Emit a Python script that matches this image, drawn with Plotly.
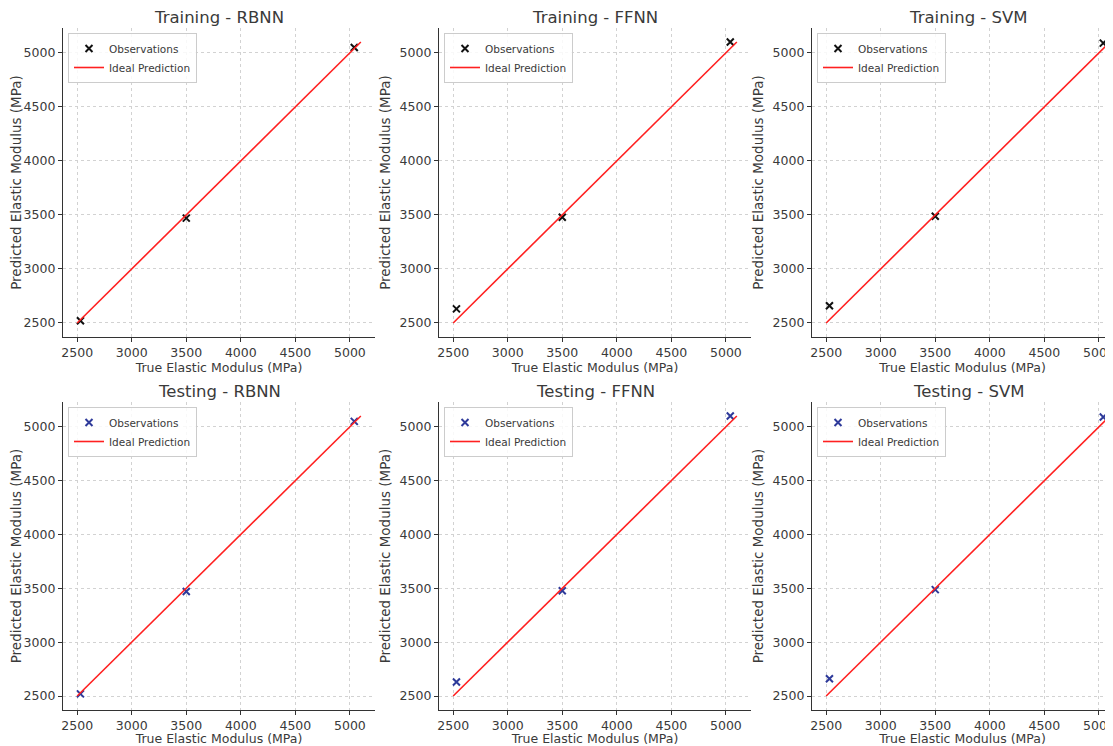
import plotly.graph_objects as go

# ---------------- data ----------------
models = ["RBNN", "FFNN", "SVM"]
phases = ["Training", "Testing"]
true_vals = {
    "RBNN": [2530, 3500, 5040],
    "FFNN": [2530, 3500, 5040],
    "SVM": [2530, 3500, 5040],
}
pred_train = {
    "RBNN": [2520, 3470, 5050],
    "FFNN": [2630, 3478, 5100],
    "SVM": [2660, 3488, 5090],
}
pred_test = {
    "RBNN": [2520, 3470, 5050],
    "FFNN": [2630, 3478, 5100],
    "SVM": [2660, 3488, 5090],
}
ideal_line = [2500, 5100]
tick_vals = [2500, 3000, 3500, 4000, 4500, 5000]

# ---------------- layout geometry ----------------
OFF = 8  # page body margin
W, H = 1113 - OFF, 746 - OFF
FONT = "DejaVu Sans"
TXT = "#3a3a3a"
x_px = [(63, 375), (439, 751), (812, 1124)]
y_px = [(28, 337), (402, 710)]
unit_per_px = 2860 / 312.0

fig = go.Figure()
layout = dict(
    width=W, height=H, margin=dict(l=0, r=0, t=0, b=0),
    paper_bgcolor="white", plot_bgcolor="white",
    font=dict(family=FONT, color=TXT, size=12),
    showlegend=True,
)
annotations = []

colors = {"Training": "#111111", "Testing": "#2e3a9a"}

idx = 0
for r, phase in enumerate(phases):
    preds = pred_train if phase == "Training" else pred_test
    for c, m in enumerate(models):
        idx += 1
        xa = "x" if idx == 1 else f"x{idx}"
        ya = "y" if idx == 1 else f"y{idx}"
        leg = "legend" if idx == 1 else f"legend{idx}"
        x0, x1 = x_px[c][0] - OFF, x_px[c][1] - OFF
        y0, y1 = y_px[r][0] - OFF, y_px[r][1] - OFF
        if x1 > W:
            xr = [2370, 2370 + (W - x0) * unit_per_px]
            dom = [x0 / W, 1.0]
        else:
            xr = [2370, 5230]
            dom = [x0 / W, x1 / W]
        axcommon = dict(
            showline=True, linecolor="#333333", linewidth=1.2, mirror=False,
            ticks="outside", ticklen=4, tickcolor="#333333", tickwidth=1,
            showgrid=True, gridcolor="#d2d2d2", griddash="dot", gridwidth=1,
            zeroline=False, tickvals=tick_vals,
            tickfont=dict(family=FONT, size=12.5, color=TXT),
            automargin=False, ticklabeloverflow="allow",
        )
        layout["xaxis" if idx == 1 else f"xaxis{idx}"] = dict(
            axcommon, domain=dom, range=xr, anchor=ya,
            title=dict(text="True Elastic Modulus (MPa)", standoff=3,
                       font=dict(family=FONT, size=12.5, color=TXT)),
        )
        layout["yaxis" if idx == 1 else f"yaxis{idx}"] = dict(
            axcommon, domain=[1 - y1 / H, 1 - y0 / H], range=[2370, 5230], anchor=xa,
            title=dict(text="Predicted Elastic Modulus (MPa)", standoff=5,
                       font=dict(family=FONT, size=13.5, color=TXT)),
        )
        layout[leg] = dict(
            x=(x0 + 5) / W, y=1 - (y0 + 5) / H, xanchor="left", yanchor="top",
            xref="paper", yref="paper",
            bgcolor="rgba(255,255,255,0.85)", bordercolor="#cccccc", borderwidth=1,
            font=dict(family=FONT, size=10.5, color=TXT),
            itemwidth=30, tracegroupgap=0,
        )
        fig.add_trace(go.Scatter(
            x=true_vals[m], y=preds[m], mode="markers", name="Observations",
            marker=dict(symbol="x-thin", size=7, color=colors[phase],
                        line=dict(width=2, color=colors[phase])),
            xaxis=xa, yaxis=ya, legend=leg, cliponaxis=False,
        ))
        fig.add_trace(go.Scatter(
            x=ideal_line, y=ideal_line, mode="lines", name="Ideal Prediction",
            line=dict(color="#ff2020", width=1.6),
            xaxis=xa, yaxis=ya, legend=leg,
        ))
        annotations.append(dict(
            text=f"{phase} - {m}", xref="paper", yref="paper",
            x=((x0 + (x0 + 312)) / 2) / W, y=1 - (y0 - 11) / H,
            xanchor="center", yanchor="middle", showarrow=False,
            font=dict(family=FONT, size=16.5, color=TXT),
        ))

layout["annotations"] = annotations
fig.update_layout(**layout)
fig.write_html("out.html")
